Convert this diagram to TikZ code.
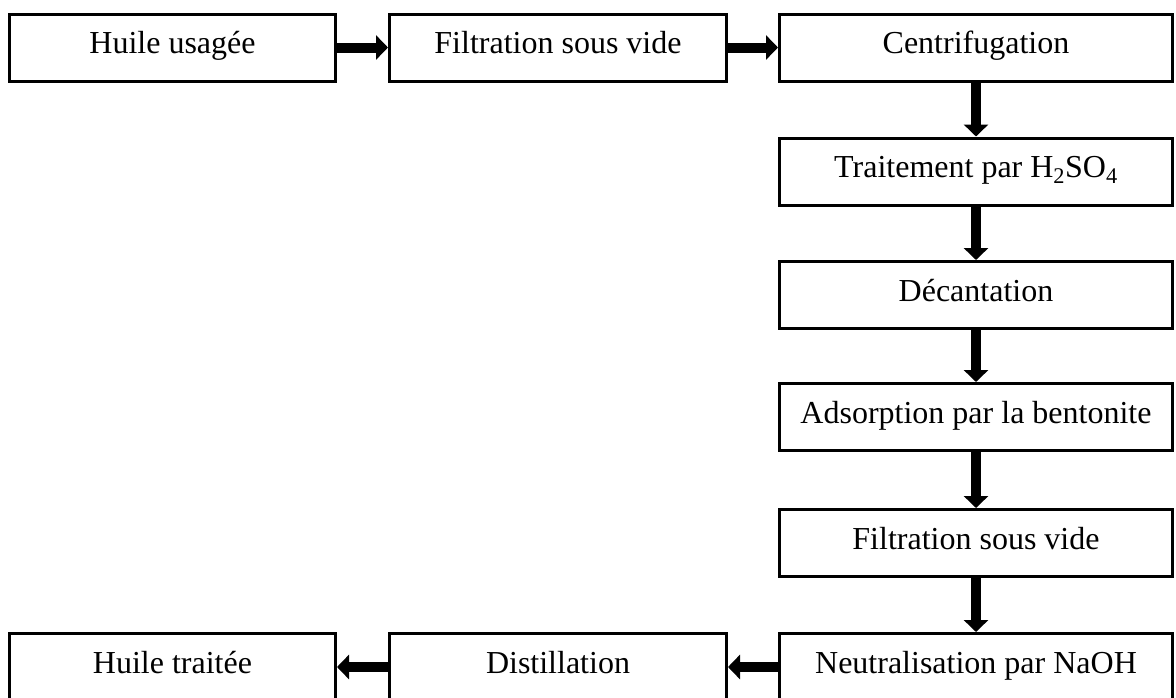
\documentclass[tikz,border=0pt]{standalone}
\usepackage{fontspec}
\setmainfont{Liberation Serif}
\usetikzlibrary{arrows.meta}
\begin{document}
\begin{tikzpicture}[x=1pt,y=-1pt,
  box/.style={draw, line width=3pt, inner sep=0pt, minimum height=67pt,
    font=\fontsize{32}{38}\selectfont, text height=22pt, text depth=10pt},
  flow/.style={line width=10pt, -{Triangle[length=12pt,width=24pt]}}]
\clip (0,0) rectangle (1176,697);
% top row
\node[box, minimum width=326pt] (a) at (172.5,47.5) {Huile usagée};
\node[box, minimum width=337pt] (b) at (558,47.5) {Filtration sous vide};
\node[box, minimum width=393pt] (c) at (976,47.5) {Centrifugation};
% right column
\node[box, minimum width=393pt] (d) at (976,171.5) {Traitement par H\textsubscript{2}SO\textsubscript{4}};
\node[box, minimum width=393pt] (e) at (976,295) {Décantation};
\node[box, minimum width=393pt] (f) at (976,417) {Adsorption par la bentonite};
\node[box, minimum width=393pt] (g) at (976,543) {Filtration sous vide};
\node[box, minimum width=393pt] (h) at (976,667) {Neutralisation par NaOH};
% bottom row
\node[box, minimum width=337pt] (i) at (558,667) {Distillation};
\node[box, minimum width=326pt] (j) at (172.5,667) {Huile traitée};
% connectors
\draw[flow] (a) -- (b);
\draw[flow] (b) -- (c);
\draw[flow] (c) -- (d);
\draw[flow] (d) -- (e);
\draw[flow] (e) -- (f);
\draw[flow] (f) -- (g);
\draw[flow] (g) -- (h);
\draw[flow] (h) -- (i);
\draw[flow] (i) -- (j);
\end{tikzpicture}
\end{document}
